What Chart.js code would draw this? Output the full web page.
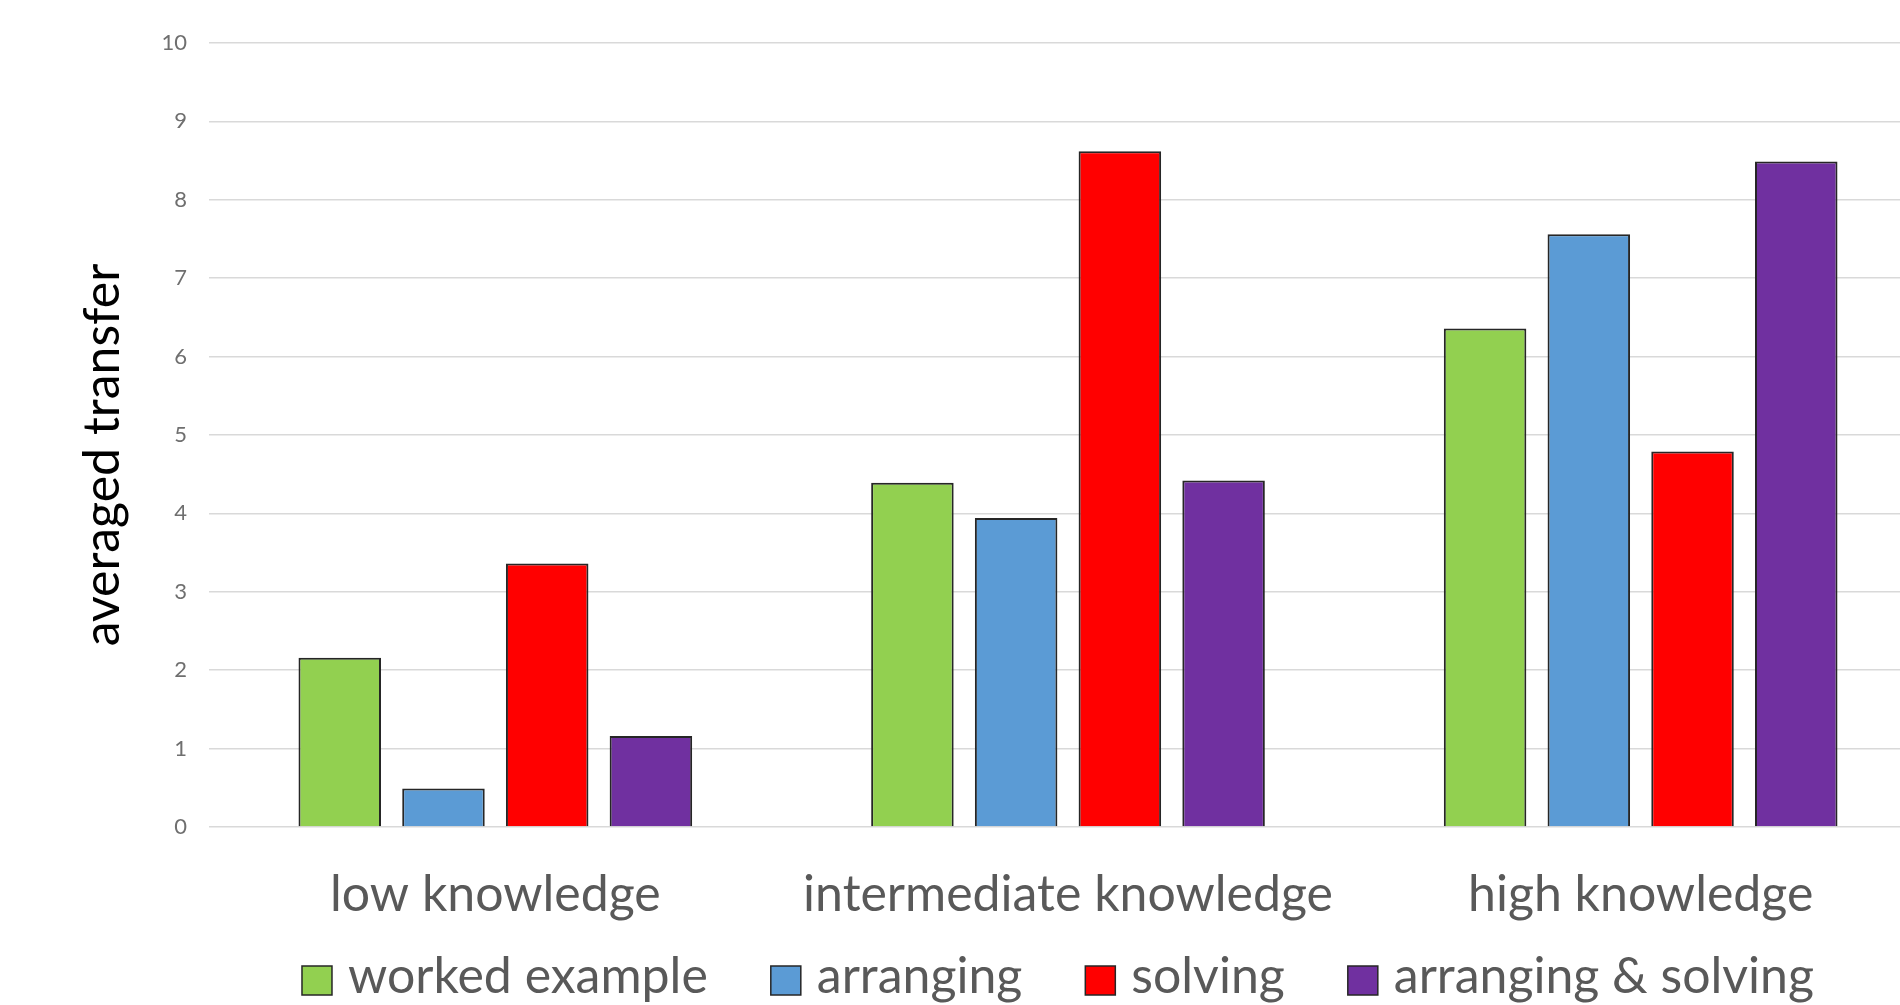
<!DOCTYPE html>
<html>
<head>
<meta charset="utf-8">
<script src="https://cdn.jsdelivr.net/npm/chart.js@4/dist/chart.umd.min.js"></script>
<style>
  html, body { margin: 0; padding: 0; overflow: hidden; background: #fff; }
  #wrap { width: 2116px; height: 1005px; }
</style>
</head>
<body>
<div id="wrap"><canvas id="c" width="2116" height="1005"></canvas></div>
<script>
// Categories and series values
const categories = ['low knowledge', 'intermediate knowledge', 'high knowledge'];
const workedExample    = [2.16, 4.39, 6.36];
const arranging        = [0.49, 3.94, 7.56];
const solving          = [3.36, 8.62, 4.79];
const arrangingSolving = [1.16, 4.42, 8.49];

const seriesNames  = ['worked example', 'arranging', 'solving', 'arranging & solving'];
const seriesColors = ['#92D050', '#5B9BD5', '#FF0000', '#7030A0'];

// Value axis
const yMin = 0, yMax = 10, yStep = 1;
const yTitle = 'averaged transfer';

const FONT = 'Lato';
const LABEL_SIZE = 50;

// Rotated value-axis title
const axisTitle = {
  id: 'axisTitle',
  afterDraw(chart) {
    const { ctx, chartArea } = chart;
    ctx.save();
    ctx.font = `${LABEL_SIZE}px ${FONT}`;
    ctx.fillStyle = '#000';
    ctx.textAlign = 'center';
    ctx.textBaseline = 'middle';
    ctx.translate(103, (chartArea.top + chartArea.bottom) / 2 + 20);
    ctx.rotate(-Math.PI / 2);
    ctx.fillText(yTitle, 0, 0);
    ctx.restore();
  }
};

// Legend row under the category labels
const bottomLegend = {
  id: 'bottomLegend',
  afterDraw(chart) {
    const ctx = chart.ctx;
    ctx.save();
    ctx.font = `${LABEL_SIZE}px ${FONT}`;
    const box = 30, boxH = 29, gap = 16, spacing = 63;
    const items = chart.data.datasets.map(ds => ({
      text: ds.label,
      color: ds.backgroundColor,
      w: ctx.measureText(ds.label).width
    }));
    const total = items.reduce((s, it) => s + box + gap + it.w, 0) + spacing * (items.length - 1);
    let x = chart.width / 2 - total / 2;
    const boxTop = chart.height - 39;
    const baseline = chart.height - 12;
    items.forEach(it => {
      ctx.fillStyle = it.color;
      ctx.fillRect(x, boxTop, box, boxH);
      ctx.strokeStyle = '#262626';
      ctx.lineWidth = 1.5;
      ctx.strokeRect(x, boxTop, box, boxH);
      ctx.fillStyle = '#595959';
      ctx.textBaseline = 'alphabetic';
      ctx.textAlign = 'left';
      ctx.fillText(it.text, x + box + gap, baseline);
      x += box + gap + it.w + spacing;
    });
    ctx.restore();
  }
};

const seriesValues = [workedExample, arranging, solving, arrangingSolving];

new Chart(document.getElementById('c'), {
  type: 'bar',
  data: {
    labels: categories,
    datasets: seriesNames.map((name, i) => ({
      label: name,
      data: seriesValues[i],
      backgroundColor: seriesColors[i],
      borderColor: '#262626',
      borderWidth: 2,
      categoryPercentage: 0.7245,
      barPercentage: 0.7956
    }))
  },
  options: {
    responsive: false,
    animation: false,
    devicePixelRatio: 1,
    layout: { padding: { left: 0, right: 189, top: 43, bottom: 42 } },
    plugins: {
      legend: { display: false },
      tooltip: { enabled: false }
    },
    scales: {
      x: {
        grid: { display: false, drawTicks: false },
        border: { display: false },
        ticks: {
          color: '#595959',
          font: { family: FONT, size: LABEL_SIZE },
          padding: 38,
          maxRotation: 0,
          autoSkip: false
        }
      },
      y: {
        min: yMin,
        max: yMax,
        afterFit(scale) { scale.width = 209; },
        grid: { color: '#D9D9D9', lineWidth: 1.5, drawTicks: false },
        border: { display: false },
        ticks: {
          stepSize: yStep,
          color: '#6F6F6F',
          font: { family: FONT, size: 22 },
          padding: 22
        }
      }
    }
  },
  plugins: [axisTitle, bottomLegend]
});
</script>
</body>
</html>
